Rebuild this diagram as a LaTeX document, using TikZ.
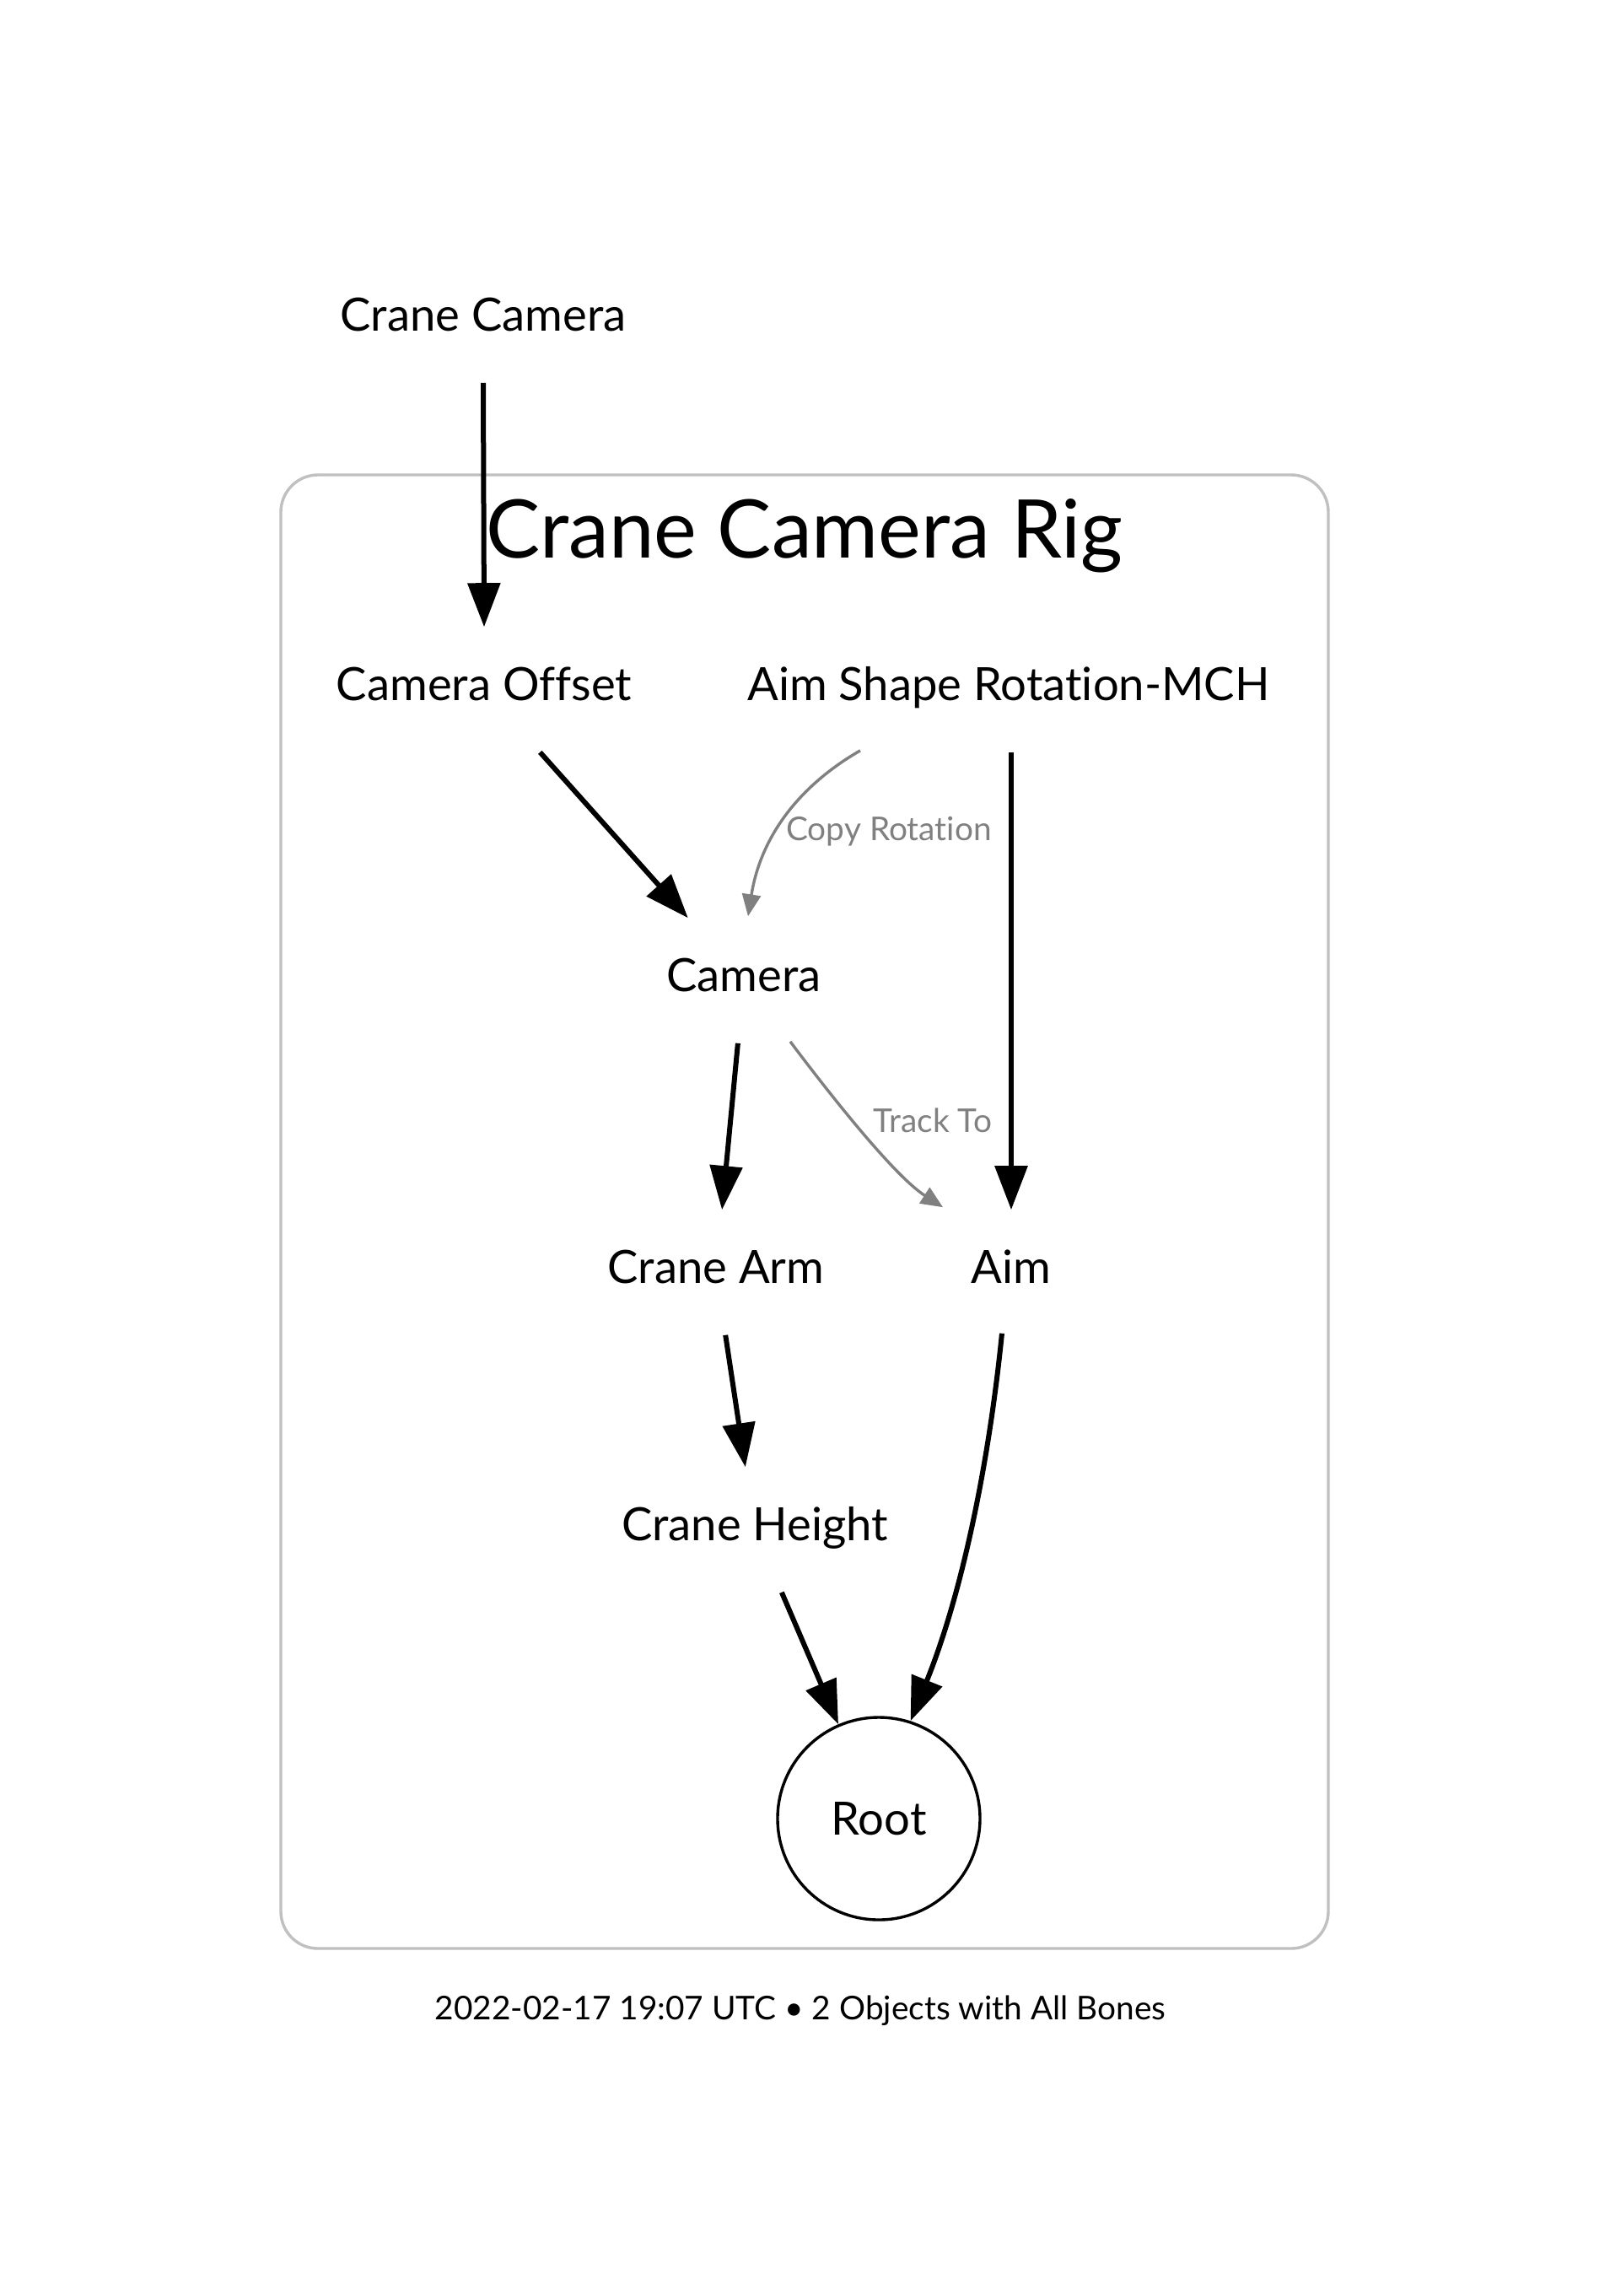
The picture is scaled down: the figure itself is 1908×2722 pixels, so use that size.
\documentclass[tikz,border=0pt]{standalone}
\usepackage{fontspec}
\setmainfont{Lato}[Ligatures=NoCommon]
\usetikzlibrary{arrows.meta,calc}
\definecolor{edgegray}{RGB}{128,128,128}
\definecolor{boxgray}{RGB}{192,192,192}
\begin{document}
\begin{tikzpicture}[x=0.25pt,y=-0.25pt,
  lbl/.style={font=\fontsize{13.6}{16}\selectfont, text height=21.5pt, text depth=15.25pt, inner sep=0pt, anchor=base},
  blk/.style={line width=1.5pt, -{Triangle[length=13pt,width=9.5pt]}},
  gry/.style={draw=edgegray, line width=0.85pt, -{Triangle[length=6.5pt,width=5.5pt]}},
  elbl/.style={text=edgegray, font=\fontsize{9.7}{12}\selectfont, inner sep=0pt, anchor=base},
  cluster/.style={draw=boxgray, line width=0.85pt, rounded corners=11pt}
]
\fill[white] (0,0) rectangle (1908,2722);
\useasboundingbox (0,0) rectangle (1908,2722);

% cluster box
\draw[cluster] (333,563) rectangle (1575,2310);
\node[font=\fontsize{24}{28}\selectfont, inner sep=0pt, anchor=base] (title) at (954,661) {Crane Camera Rig};

% nodes
\node[lbl] (cc)  at (573,392)  {Crane Camera};
\node[lbl] (co)  at (574,830)  {Camera Offset};
\node[lbl] (ash) at (1196,830) {Aim Shape Rotation-MCH};
\node[lbl] (cam) at (882,1175) {Camera};
\node[lbl] (arm) at (849,1521) {Crane Arm};
\node[lbl] (aim) at (1199,1521) {Aim};
\node[lbl] (hgt) at (895,1826) {Crane Height};
\node[draw, circle, line width=0.85pt, minimum size=60pt, inner sep=0pt,
      font=\fontsize{13.6}{16}\selectfont] (root) at (1042,2156) {Root};

% edge labels
\node[elbl] (lcopy)  at (1054,996)  {Copy Rotation};
\node[elbl] (ltrack) at (1106,1342) {Track To};

% footer
\node[font=\fontsize{9.7}{11}\selectfont, inner sep=0pt, anchor=base] (foot) at (949,2394)
  {2022-02-17 19:07 UTC • 2 Objects with All Bones};

% edges
\draw[blk] (cc.south) -- (co.north);
\draw[blk] (co) -- (cam);
\draw[gry] ($(ash.south)+(-176,-2)$) .. controls +(-78,45) and +(14,-89) .. ($(cam.north)+(5,-2)$);
\draw[blk] (ash.south -| aim.north) -- (aim.north);
\draw[blk] (cam) -- (arm);
\draw[gry] ($(cam.south)+(55,-2)$) .. controls +(42,56) and +(-59,-38) .. ($(aim.north)+(-81,-3)$);
\draw[blk] (arm) -- (hgt);
\draw[blk] (hgt) -- (root);
\draw[blk] ($(aim.south)+(-11,-2)$) .. controls +(-16,159) and +(60,-148) .. (root.72);
\end{tikzpicture}
\end{document}
